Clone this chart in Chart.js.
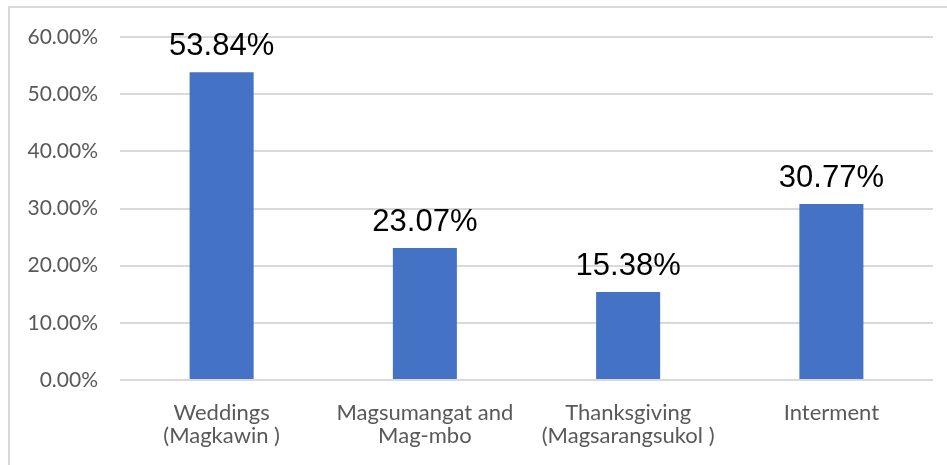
<!DOCTYPE html>
<html><head><meta charset="utf-8">
<script src="https://cdn.jsdelivr.net/npm/chart.js@4.4.0/dist/chart.umd.min.js"></script>
<style>
html,body{margin:0;padding:0;background:#fff;width:947px;height:465px;overflow:hidden;}
#frame{position:absolute;left:8px;top:6px;width:950px;height:480px;border:2px solid #d9d9d9;box-sizing:border-box;}
#wrap{position:absolute;left:0;top:0;width:947px;height:465px;}
</style></head><body>
<div id="frame"></div>
<div id="wrap"><canvas id="c" width="947" height="465"></canvas></div>
<script>
const categories = [["Weddings","(Magkawin )"],["Magsumangat and","Mag-mbo"],["Thanksgiving","(Magsarangsukol )"],["Interment"]];
const values = [53.84, 23.07, 15.38, 30.77];
const yTicks = [0,10,20,30,40,50,60];

const labelPlugin = {
  id:'vlabels',
  afterDatasetsDraw(chart){
    const ctx = chart.ctx;
    const meta = chart.getDatasetMeta(0);
    ctx.save();
    ctx.font = '31px "Liberation Sans", Arial, sans-serif';
    ctx.fillStyle = '#000';
    ctx.textAlign = 'center';
    ctx.textBaseline = 'alphabetic';
    meta.data.forEach((bar,i)=>{
      ctx.fillText(values[i].toFixed(2)+'%', bar.x, bar.y - 17);
    });
    ctx.restore();
  }
};

new Chart(document.getElementById('c'), {
  type:'bar',
  data:{labels:categories, datasets:[{data:values, backgroundColor:'#4472C4', barPercentage:0.315, categoryPercentage:1}]},
  options:{
    responsive:false, animation:false,
    layout:{padding:{top:37,right:14,left:0,bottom:0}},
    plugins:{legend:{display:false},tooltip:{enabled:false}},
    scales:{
      y:{min:0,max:60,
        afterBuildTicks(s){s.ticks = yTicks.map(v=>({value:v}));},
        afterFit(s){s.width=120;},
        ticks:{padding:22,color:'#595959',font:{family:'Lato',size:21},callback:v=>v.toFixed(2)+'%'},
        grid:{color:'#d9d9d9',lineWidth:2,drawTicks:false},
        border:{display:false}
      },
      x:{
        afterFit(s){s.height=85;},
        ticks:{padding:21,color:'#595959',font:{family:'Lato',size:22,lineHeight:'23px'},maxRotation:0,autoSkip:false},
        grid:{display:false,drawTicks:false},
        border:{display:false}
      }
    }
  },
  plugins:[labelPlugin]
});
</script>
</body></html>
